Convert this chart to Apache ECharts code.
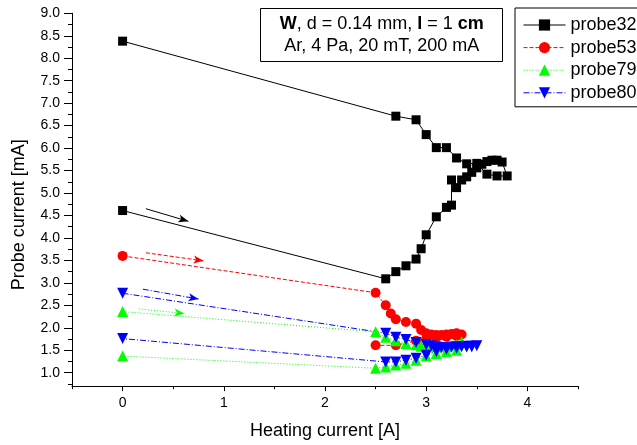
<!DOCTYPE html>
<html><head><meta charset="utf-8">
<script src="https://cdn.jsdelivr.net/npm/echarts@6/dist/echarts.min.js"></script>
<style>html,body{margin:0;padding:0;background:#fff}#c{width:637px;height:445px}</style>
</head><body><div id="c"></div>
<script>
// ---- data ----
const p32X = [0, 2.6, 2.7, 2.8, 2.9, 2.95, 3.0, 3.1, 3.2, 3.25, 3.25, 3.3, 3.35, 3.4, 3.45, 3.5, 3.55, 3.6, 3.65, 3.7, 3.75, 3.8, 3.7, 3.6, 3.5, 3.4, 3.3, 3.2, 3.1, 3.0, 2.9, 2.7, 0];
const p32Y = [4.61, 3.09, 3.25, 3.38, 3.53, 3.76, 4.07, 4.47, 4.68, 4.73, 5.29, 5.12, 5.29, 5.36, 5.46, 5.56, 5.64, 5.70, 5.73, 5.73, 5.69, 5.38, 5.38, 5.42, 5.66, 5.65, 5.78, 6.01, 6.01, 6.30, 6.63, 6.71, 8.38];
const p53X = [0, 2.5, 2.6, 2.65, 2.7, 2.8, 2.9, 2.95, 3.0, 3.05, 3.1, 3.15, 3.2, 3.25, 3.3, 3.35, 3.3, 3.2, 3.1, 3.0, 2.9, 2.7, 2.5];
const p53Y = [3.60, 2.78, 2.50, 2.32, 2.19, 2.13, 2.09, 1.95, 1.88, 1.85, 1.84, 1.84, 1.85, 1.86, 1.88, 1.85, 1.82, 1.80, 1.78, 1.75, 1.71, 1.61, 1.61];
const p79X = [0, 2.5, 2.6, 2.7, 2.8, 2.9, 2.95, 3.0, 3.1, 3.2, 3.3, 3.35, 3.3, 3.2, 3.1, 3.0, 2.9, 2.8, 2.7, 2.6, 2.5, 0];
const p79Y = [2.36, 1.91, 1.79, 1.71, 1.65, 1.62, 1.59, 1.58, 1.57, 1.58, 1.62, 1.69, 1.50, 1.47, 1.43, 1.37, 1.28, 1.21, 1.17, 1.13, 1.10, 1.37];
const p80X = [0, 2.6, 2.7, 2.8, 2.9, 3.0, 3.05, 3.1, 3.15, 3.2, 3.25, 3.3, 3.35, 3.4, 3.45, 3.5, 3.45, 3.4, 3.3, 3.2, 3.1, 3.0, 2.9, 2.8, 2.7, 2.6, 0];
const p80Y = [2.77, 1.88, 1.79, 1.74, 1.67, 1.62, 1.60, 1.57, 1.56, 1.56, 1.57, 1.58, 1.58, 1.59, 1.59, 1.60, 1.58, 1.57, 1.55, 1.52, 1.47, 1.39, 1.32, 1.28, 1.24, 1.24, 1.76];
// arrows: [x1, y1, x2, y2]
const arrow32 = [0.23, 4.65, 0.65, 4.37];
const arrow53 = [0.23, 3.67, 0.80, 3.49];
const arrow79 = [0.16, 2.42, 0.61, 2.32];
const arrow80 = [0.20, 2.86, 0.75, 2.64];
const seriesNames = ['probe32', 'probe53', 'probe79', 'probe80'];
const xMajor = [0, 1, 2, 3, 4];
const xMinor = [-0.5, 0.5, 1.5, 2.5, 3.5, 4.5];
const yMajor = [1.0, 1.5, 2.0, 2.5, 3.0, 3.5, 4.0, 4.5, 5.0, 5.5, 6.0, 6.5, 7.0, 7.5, 8.0, 8.5, 9.0];
const yMinor = [0.75, 1.25, 1.75, 2.25, 2.75, 3.25, 3.75, 4.25, 4.75, 5.25, 5.75, 6.25, 6.75, 7.25, 7.75, 8.25, 8.75];
const boxLine1 = '{b|W}, d = 0.14 mm, {b|l} = 1 {b|cm}';
const boxLine2 = 'Ar, 4 Pa, 20 mT, 200 mA';

// ---- chart ----
const FF = '"Liberation Sans", Arial, sans-serif';
const zip = (xs, ys) => xs.map((x, i) => [x, ys[i]]);
const arrowML = (a, color, type) => ({
  silent: true, animation: false,
  symbol: ['none', 'arrow'], symbolSize: [6, 10],
  label: { show: false },
  lineStyle: { color: color, type: type, width: 1 },
  emphasis: { disabled: true },
  data: [[{ coord: [a[0], a[1]] }, { coord: [a[2], a[3]] }]]
});
const mkSeries = (name, xs, ys, color, symbol, size, type, rot, arrow) => ({
  name: name, type: 'line', data: zip(xs, ys),
  xAxisIndex: 0, yAxisIndex: 0,
  symbol: symbol, symbolSize: size, symbolRotate: rot,
  showAllSymbol: true, animation: false,
  itemStyle: { color: color, borderWidth: 0 },
  lineStyle: { color: color, width: 1, type: type },
  markLine: arrowML(arrow, color, type)
});
const axisCommon = {
  splitLine: { show: false },
  axisLine: { show: true, onZero: false, lineStyle: { color: '#000', width: 1 } }
};
const chart = echarts.init(document.getElementById('c'), null, { renderer: 'canvas' });
chart.setOption({
  backgroundColor: '#fff',
  animation: false,
  textStyle: { fontFamily: FF },
  grid: { left: 72, right: 59, top: 13.3, bottom: 58.8, containLabel: false, outerBoundsMode: 'none' },
  xAxis: [
    Object.assign({}, axisCommon, {
      type: 'value', min: -0.5, max: 4.5, position: 'bottom',
      name: 'Heating current [A]', nameLocation: 'middle', nameGap: 36,
      nameTextStyle: { fontSize: 18, color: '#000', fontFamily: FF },
      axisTick: { show: true, inside: false, length: 5, customValues: xMajor, lineStyle: { color: '#000' } },
      axisLabel: { show: true, customValues: xMajor, fontSize: 14, color: '#000', margin: 10, fontFamily: FF,
        formatter: v => String(v) }
    }),
    {
      type: 'value', min: -0.5, max: 4.5, position: 'bottom', gridIndex: 0,
      splitLine: { show: false }, axisLine: { show: false, onZero: false },
      axisTick: { show: true, length: 3, customValues: xMinor, lineStyle: { color: '#000' } },
      axisLabel: { show: false }
    }
  ],
  yAxis: [
    Object.assign({}, axisCommon, {
      type: 'value', min: 0.7, max: 9, position: 'left',
      name: 'Probe current [mA]', nameLocation: 'middle', nameGap: 44, nameRotate: 90,
      nameTextStyle: { fontSize: 18, color: '#000', fontFamily: FF, padding: [0, 30, 0, 0] },
      axisTick: { show: true, inside: false, length: 8, customValues: yMajor, lineStyle: { color: '#000' } },
      axisLabel: { show: true, customValues: yMajor, fontSize: 14, color: '#000', margin: 12, fontFamily: FF,
        formatter: v => Number(v).toFixed(1) }
    }),
    {
      type: 'value', min: 0.7, max: 9, position: 'left', gridIndex: 0,
      splitLine: { show: false }, axisLine: { show: false, onZero: false },
      axisTick: { show: true, length: 4, customValues: yMinor, lineStyle: { color: '#000' } },
      axisLabel: { show: false }
    }
  ],
  legend: {
    data: seriesNames, orient: 'vertical', left: 515, top: 8,
    padding: [8, 8, 5, 8], itemGap: 4.6, itemWidth: 42, itemHeight: 14,
    borderColor: '#000', borderWidth: 1, backgroundColor: '#fff',
    lineStyle: { width: 1 },
    textStyle: { fontSize: 18, color: '#000', fontFamily: FF }
  },
  graphic: [
    { type: 'rect', shape: { x: 260.5, y: 8.5, width: 242, height: 53 },
      style: { fill: '#fff', stroke: '#000', lineWidth: 1 }, z: 100 },
    { type: 'text', x: 381.7, y: 35, z: 101,
      style: { text: boxLine1 + '\n' + boxLine2, fontSize: 18, fontFamily: FF, fill: '#000',
        align: 'center', verticalAlign: 'middle', textAlign: 'center', textVerticalAlign: 'middle', lineHeight: 22,
        rich: { b: { fontWeight: 'bold', fontSize: 18, fontFamily: FF, fill: '#000', lineHeight: 22 } } } }
  ],
  series: [
    mkSeries(seriesNames[0], p32X, p32Y, '#000000', 'rect', 9, 'solid', 0, arrow32),
    mkSeries(seriesNames[1], p53X, p53Y, '#ff0000', 'circle', 10, [4, 2], 0, arrow53),
    mkSeries(seriesNames[2], p79X, p79Y, '#00ff00', 'triangle', 11, [1, 2], 0, arrow79),
    mkSeries(seriesNames[3], p80X, p80Y, '#0000ff', 'triangle', 11, [6, 2, 1, 2], 180, arrow80)
  ]
});
</script></body></html>
